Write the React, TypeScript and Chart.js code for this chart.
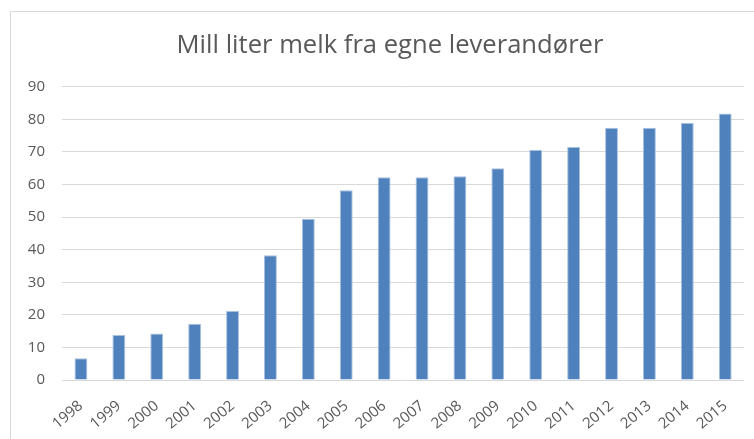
import React, { useEffect, useRef } from "react";
import { Chart, registerables } from "chart.js";

Chart.register(...registerables);

const TITLE = "Mill liter melk fra egne leverandører";
const YEARS = ["1998","1999","2000","2001","2002","2003","2004","2005","2006","2007","2008","2009","2010","2011","2012","2013","2014","2015"];
const VALUES = [6.7, 13.8, 14.3, 17.3, 21.2, 38.3, 49.5, 58.2, 62.2, 62.2, 62.5, 65.0, 70.6, 71.5, 77.4, 77.4, 78.9, 81.8];
const Y_MIN = 0;
const Y_MAX = 90;
const Y_STEP = 10;

const FONT = "'Open Sans', 'Noto Sans', sans-serif";

const titleShift = {
  id: "titleShift",
  afterLayout(chart: any) {
    if (chart.titleBlock) {
      chart.titleBlock.left += 14;
    }
  },
};

export default function App() {
  const ref = useRef<HTMLCanvasElement | null>(null);

  useEffect(() => {
    if (!ref.current) return;
    const chart = new Chart(ref.current, {
      type: "bar",
      data: {
        labels: YEARS,
        datasets: [
          {
            data: VALUES,
            backgroundColor: "#4F81BD",
            borderColor: "#A7C0E0",
            borderWidth: { left: 1, right: 1, top: 1, bottom: 0 } as any,
            categoryPercentage: 1,
            barPercentage: 0.34,
          },
        ],
      },
      plugins: [titleShift],
      options: {
        animation: false,
        responsive: false,
        maintainAspectRatio: false,
        layout: { padding: { left: 20, right: 8, top: 0, bottom: 0 } },
        plugins: {
          legend: { display: false },
          tooltip: { enabled: false },
          title: {
            display: true,
            text: TITLE,
            color: "#595959",
            font: { family: FONT, size: 25.6, weight: "normal" as any, lineHeight: 1.2 },
            padding: { top: 30, bottom: 26 },
          },
        },
        scales: {
          x: {
            grid: { display: false, drawTicks: false },
            border: { display: false },
            ticks: {
              color: "#595959",
              font: { family: FONT, size: 15 },
              minRotation: 40,
              maxRotation: 40,
              padding: 17,
              autoSkip: false,
            },
            afterFit: (s: any) => {
              s.height = 59;
            },
          },
          y: {
            min: Y_MIN,
            max: Y_MAX,
            grid: { color: "#D9D9D9", lineWidth: 1, drawTicks: false },
            border: { display: false },
            ticks: {
              stepSize: Y_STEP,
              color: "#595959",
              font: { family: FONT, size: 15 },
              padding: 17,
            },
            afterFit: (s: any) => {
              s.width = 42;
            },
          },
        },
      },
    });
    return () => chart.destroy();
  }, []);

  return (
    <div style={{ position: "fixed", left: 0, top: 0, width: 754, height: 439, background: "#fff", overflow: "hidden" }}>
      <div
        style={{
          position: "absolute",
          left: 10,
          top: 11,
          width: 800,
          height: 500,
          border: "1px solid #D9D9D9",
          boxSizing: "border-box",
        }}
      />
      <canvas ref={ref} width={754} height={439} style={{ position: "absolute", left: 0, top: 0, display: "block" }} />
    </div>
  );
}
